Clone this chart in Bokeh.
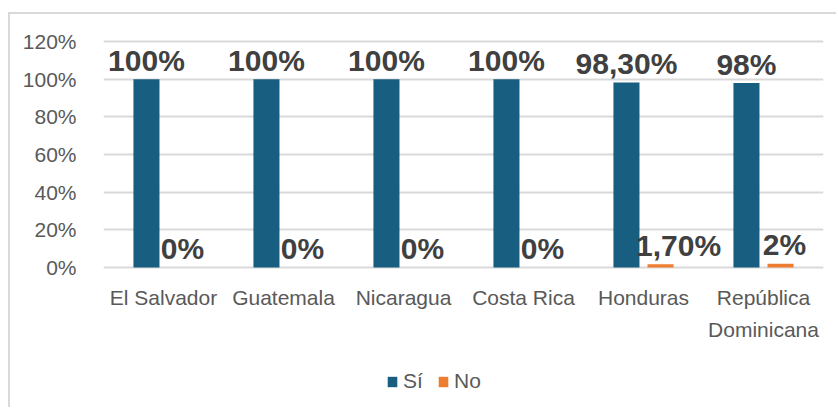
from bokeh.plotting import figure
from bokeh.models import ColumnDataSource, FixedTicker, PrintfTickFormatter, Legend, LegendItem
from bokeh.transform import dodge
from bokeh.core.properties import value
from bokeh.embed import file_html
from bokeh.resources import INLINE

categories = ["El Salvador", "Guatemala", "Nicaragua", "Costa Rica", "Honduras", "República\nDominicana"]
si = [100, 100, 100, 100, 98.3, 98]
no = [0, 0, 0, 0, 1.7, 2]
si_labels = ["100%", "100%", "100%", "100%", "98,30%", "98%"]
no_labels = ["0%", "0%", "0%", "0%", "1,70%", "2%"]
y_ticks = [0, 20, 40, 60, 80, 100, 120]

BLUE = "#175e80"
ORANGE = "#ED7D31"
GRID = "#d9d9d9"
TXT = "#595959"
LBL = "#404040"
FONT = "Liberation Sans"

src = ColumnDataSource(dict(cat=categories, si=si, no=no, si_l=si_labels, no_l=no_labels))

# canvas origin sits at page (10, 14) because of margin + 2px border
p = figure(x_range=categories, y_range=(-73.3, 131.2), width=828, height=395,
           output_backend="svg", toolbar_location=None,
           min_border_left=93, min_border_right=15, min_border_top=6, min_border_bottom=4,
           styles={"margin-left": "8px", "margin-top": "12px",
                   "border-left": f"2px solid {GRID}", "border-top": f"2px solid {GRID}"})
p.outline_line_color = None
p.background_fill_color = "white"
p.border_fill_color = "white"

w = 0.217
off = 0.142
r_si = p.vbar(x=dodge("cat", -off, range=p.x_range), top="si", width=w, source=src,
              fill_color=BLUE, line_color=None)
r_no = p.vbar(x=dodge("cat", off, range=p.x_range), top="no", width=w, source=src,
              fill_color=ORANGE, line_color=None)

# label nudges (px) so that labels do not overlap neighbouring bars
src.data["si_dx"] = [0] * len(categories)
src.data["no_dx"] = [2, 2, 2, 2, 18, 4]

for col, lcol, o, dx in (("si", "si_l", -off, "si_dx"), ("no", "no_l", off, "no_dx")):
    p.text(x=dodge("cat", o, range=p.x_range), y=col, text=lcol, source=src,
           x_offset=dx, text_align="center", text_baseline="alphabetic", y_offset=-19,
           text_font=value(FONT), text_font_style="bold", text_font_size="30px",
           text_color=LBL)

p.yaxis.ticker = FixedTicker(ticks=y_ticks)
p.yaxis.formatter = PrintfTickFormatter(format="%d%%")
p.yaxis.axis_line_color = None
p.yaxis.major_tick_line_color = None
p.yaxis.minor_tick_line_color = None
p.yaxis.major_label_text_font = FONT
p.yaxis.major_label_text_font_size = "21px"
p.yaxis.major_label_text_color = TXT
p.yaxis.major_label_standoff = 21

p.xaxis.fixed_location = 0
p.xaxis.axis_line_color = None
p.xaxis.major_tick_line_color = None
p.xaxis.major_label_text_font = FONT
p.xaxis.major_label_text_font_size = "21px"
p.xaxis.major_label_text_color = TXT
p.xaxis.major_label_standoff = 12
p.xaxis.major_label_text_line_height = 1.4

p.xgrid.grid_line_color = None
p.ygrid.grid_line_color = GRID
p.ygrid.grid_line_width = 2
p.ygrid.ticker = FixedTicker(ticks=y_ticks)

legend = Legend(items=[LegendItem(label="Sí", renderers=[r_si]), LegendItem(label="No", renderers=[r_no])],
                orientation="horizontal", location=(283, 12),
                glyph_width=12, glyph_height=13, label_standoff=5, spacing=14,
                label_text_font=FONT, label_text_font_size="21px", label_text_color=TXT,
                border_line_color=None, background_fill_alpha=0, margin=0, padding=4)
p.add_layout(legend)

open("out.html", "w").write(file_html(p, INLINE))
